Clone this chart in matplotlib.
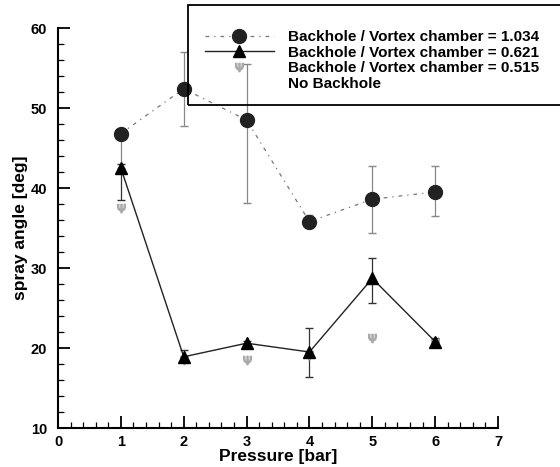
import matplotlib
matplotlib.use("Agg")
import matplotlib.pyplot as plt
from matplotlib.lines import Line2D
from matplotlib.patches import Rectangle
from matplotlib.ticker import MultipleLocator

plt.rcParams["font.family"] = ["Liberation Sans", "DejaVu Sans"]

pressure = [1, 2, 3, 4, 5, 6]

# Backhole / Vortex chamber = 1.034 (circles)
angle_1034 = [46.8, 52.4, 48.5, 35.8, 38.6, 39.5]
err_lo_1034 = [4.3, 4.7, 10.4, 0.8, 4.2, 3.0]
err_hi_1034 = [0.5, 4.6, 7.0, 0.8, 4.1, 3.2]

# Backhole / Vortex chamber = 0.621 (triangles)
angle_0621 = [42.5, 18.9, 20.6, 19.5, 28.7, 20.8]
err_lo_0621 = [4.0, 0.7, 0.3, 3.1, 3.1, 0.5]
err_hi_0621 = [0.5, 0.9, 0.3, 3.0, 2.6, 0.5]

# Backhole / Vortex chamber = 0.515 (grey markers)
angle_0515 = [37.5, 18.5, 18.5, 19.1, 21.2, 20.6]

labels = ["Backhole / Vortex chamber = 1.034",
          "Backhole / Vortex chamber = 0.621",
          "Backhole / Vortex chamber = 0.515",
          "No Backhole"]

W, H = 560, 467
fig = plt.figure(figsize=(W / 100, H / 100), dpi=100)
ax = fig.add_axes([58 / W, 1 - 428 / H, 440 / W, 400 / H])

ax.errorbar(pressure, angle_1034, yerr=[err_lo_1034, err_hi_1034],
            fmt="none", ecolor="#888888", elinewidth=0.9, capsize=3,
            linestyle=":", zorder=2)
ax.plot(pressure, angle_1034, color="#777777", linestyle=(0, (3, 4, 1, 4)),
        lw=0.9, marker="o", ms=10, mfc="#222222", mec="#222222", zorder=4)

ax.errorbar(pressure, angle_0621, yerr=[err_lo_0621, err_hi_0621],
            fmt="none", ecolor="#333333", elinewidth=0.9, capsize=3, zorder=2)
ax.plot(pressure, angle_0621, color="#222222", lw=1.0,
        marker="^", ms=8, mfc="black", mec="black", zorder=4)

ax.plot(pressure, angle_0515, linestyle="none", marker=r"$\Psi$", ms=6,
        color="#aaaaaa", zorder=3)

ax.set_xlim(0, 7)
ax.set_ylim(10, 60)
ax.xaxis.set_major_locator(MultipleLocator(1))
ax.xaxis.set_minor_locator(MultipleLocator(0.2))
ax.yaxis.set_major_locator(MultipleLocator(10))
ax.yaxis.set_minor_locator(MultipleLocator(2))
ax.tick_params(which="major", direction="in", length=8.5, width=1.3,
               labelsize=10.5)
ax.tick_params(which="minor", direction="in", length=4.3, width=0.9)
ax.tick_params(axis="y", which="major", pad=8)
ax.tick_params(axis="x", which="major", pad=5)
for lab in ax.get_xticklabels() + ax.get_yticklabels():
    lab.set_fontweight("bold")
ax.spines["top"].set_visible(False)
ax.spines["right"].set_visible(False)
for s in ("left", "bottom"):
    ax.spines[s].set_linewidth(1.5)

ax.set_xlabel("Pressure [bar]", fontsize=12.5, fontweight="bold", labelpad=0)
ax.set_ylabel("spray angle [deg]", fontsize=12.5, fontweight="bold", labelpad=2)

handles = [
    Line2D([], [], color="#777777", linestyle=(0, (3, 4, 1, 4)), lw=0.9,
           marker="o", ms=10, mfc="#222222", mec="#222222"),
    Line2D([], [], color="#222222", lw=1.0, marker="^", ms=8,
           mfc="black", mec="black"),
    Line2D([], [], linestyle="none", marker=r"$\Psi$", ms=6, color="#aaaaaa"),
    Line2D([], [], linestyle="none"),
]
fig.legend(handles, labels, loc="upper left",
           bbox_to_anchor=(205 / W, 1 - 30 / H), frameon=False,
           borderpad=0, borderaxespad=0, handlelength=4.5,
           handletextpad=0.9, labelspacing=0.1,
           prop={"size": 11, "weight": "bold"})
fig.patches.append(Rectangle((188 / W, 1 - 105 / H), 400 / W, 100 / H,
                             transform=fig.transFigure, fill=False,
                             edgecolor="black", lw=1.3, clip_on=False))

fig.savefig("out.png", dpi=100)
